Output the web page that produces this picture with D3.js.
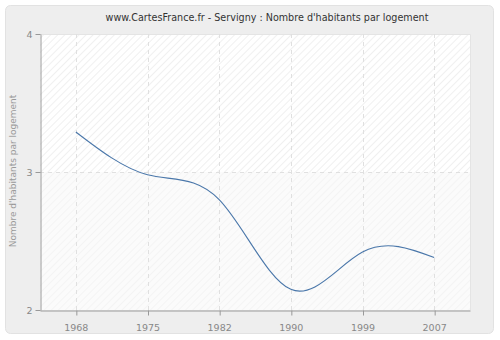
<!DOCTYPE html>
<html>
<head>
<meta charset="utf-8">
<script src="https://cdn.jsdelivr.net/npm/d3@7"></script>
<style>
  html, body { margin: 0; padding: 0; background: #ffffff; }
  svg { display: block; font-family: "DejaVu Sans", Verdana, sans-serif; }
</style>
</head>
<body>
<svg id="chart" width="500" height="340"></svg>
<script>
// Census years and average household size
const years = ["1968", "1975", "1982", "1990", "1999", "2007"];
const habitantsParLogement = [3.29, 2.98, 2.80, 2.15, 2.42, 2.38];
const yTicks = [2, 3, 4];
const titre = "www.CartesFrance.fr - Servigny : Nombre d'habitants par logement";
const yLabel = "Nombre d'habitants par logement";

const svg = d3.select("#chart");
const plot = { left: 40, right: 470, top: 34, bottom: 310 };

// Outer panel
svg.append("rect")
  .attr("x", 5.5).attr("y", 5.5)
  .attr("width", 488).attr("height", 328)
  .attr("rx", 5).attr("ry", 5)
  .attr("fill", "#eeeeee")
  .attr("stroke", "#e2e2e2");

// Hatch patterns for plot background
const defs = svg.append("defs");
function hatch(id, bg, line) {
  const p = defs.append("pattern")
    .attr("id", id)
    .attr("patternUnits", "userSpaceOnUse")
    .attr("width", 5).attr("height", 5)
    .attr("patternTransform", "rotate(45)");
  p.append("rect").attr("width", 5).attr("height", 5).attr("fill", bg);
  p.append("line").attr("x1", 0).attr("y1", 0).attr("x2", 0).attr("y2", 5)
    .attr("stroke", line).attr("stroke-width", 1.5);
}
hatch("hatchTop", "#ffffff", "#ececec");
hatch("hatchBottom", "#fbfbfb", "#f2f2f2");

const x = d3.scalePoint()
  .domain(years)
  .range([plot.left, plot.right])
  .padding(0.5);

const y = d3.scaleLinear()
  .domain([2, 4])
  .range([plot.bottom, plot.top]);

// Plot background: upper band and lower band
svg.append("rect")
  .attr("x", plot.left).attr("y", y(4))
  .attr("width", plot.right - plot.left).attr("height", y(3) - y(4))
  .attr("fill", "url(#hatchTop)");
svg.append("rect")
  .attr("x", plot.left).attr("y", y(3))
  .attr("width", plot.right - plot.left).attr("height", y(2) - y(3))
  .attr("fill", "url(#hatchBottom)");

// Plot frame (top and right edges)
svg.append("path")
  .attr("d", `M${plot.left},${plot.top + 0.5}H${plot.right + 0.5}V${plot.bottom}`)
  .attr("fill", "none")
  .attr("stroke", "#e4e4e4");

// Grid lines
const grid = svg.append("g")
  .attr("stroke", "#e0e0e0")
  .attr("stroke-dasharray", "4,4")
  .attr("fill", "none");
years.forEach(yr => {
  grid.append("line")
    .attr("x1", Math.round(x(yr)) + 0.5).attr("x2", Math.round(x(yr)) + 0.5)
    .attr("y1", plot.top).attr("y2", plot.bottom);
});
yTicks.filter(t => t > 2 && t < 4).forEach(t => {
  grid.append("line")
    .attr("x1", plot.left).attr("x2", plot.right)
    .attr("y1", Math.round(y(t)) + 0.5).attr("y2", Math.round(y(t)) + 0.5);
});

// Axes
const xAxis = svg.append("g")
  .attr("transform", `translate(0,${plot.bottom + 0.5})`)
  .call(d3.axisBottom(x).tickSize(5).tickSizeOuter(0));
const yAxis = svg.append("g")
  .attr("transform", `translate(${plot.left + 0.5},0)`)
  .call(d3.axisLeft(y).tickValues(yTicks).tickFormat(d3.format("d")).tickSize(5).tickSizeOuter(0));

[xAxis, yAxis].forEach(a => {
  a.select(".domain").attr("stroke", "#999999");
  a.selectAll(".tick line").attr("stroke", "#999999");
  a.selectAll(".tick text")
    .attr("fill", "#888888")
    .attr("font-size", 9.5)
    .attr("font-family", "DejaVu Sans, Verdana, sans-serif");
});
xAxis.selectAll(".tick text").attr("dy", "1.35em");
xAxis.selectAll(".tick line").attr("transform", "translate(0.5,0)");
yAxis.selectAll(".tick text").attr("x", -8);

// Line
const line = d3.line()
  .x((d, i) => x(years[i]))
  .y(d => y(d))
  .curve(d3.curveNatural);

svg.append("path")
  .datum(habitantsParLogement)
  .attr("d", line)
  .attr("fill", "none")
  .attr("stroke", "#4a77aa")
  .attr("stroke-width", 1.1);

// Title
svg.append("text")
  .attr("x", 267).attr("y", 21)
  .attr("text-anchor", "middle")
  .attr("font-size", 9.6)
  .attr("fill", "#333333")
  .text(titre);

// Y axis label
svg.append("text")
  .attr("transform", `translate(16,${(plot.top + plot.bottom) / 2 - 1}) rotate(-90)`)
  .attr("text-anchor", "middle")
  .attr("font-size", 9)
  .attr("fill", "#999999")
  .text(yLabel);
</script>
</body>
</html>
